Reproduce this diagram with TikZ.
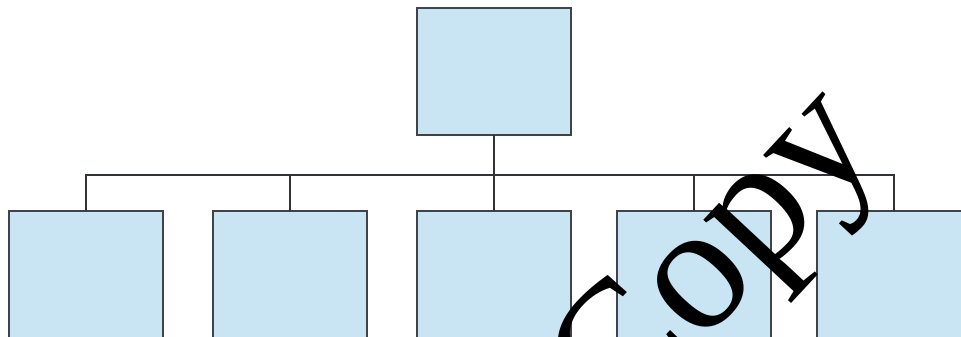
\documentclass[tikz,border=0pt]{standalone}
\usepackage{fontspec}
\setmainfont{Liberation Serif}
\definecolor{boxfill}{HTML}{C9E5F3}
\definecolor{boxline}{HTML}{404448}
\definecolor{connline}{HTML}{303436}
\begin{document}
\begin{tikzpicture}[x=1pt,y=-1pt,
  box/.style={draw=boxline, fill=boxfill, line width=2pt, minimum width=154pt, minimum height=127pt, inner sep=0pt, outer sep=0pt, anchor=north west},
  lowbox/.style={box, minimum height=150pt},
  conn/.style={draw=connline, line width=2pt},
  wmark/.style={rotate=47, anchor=base west, inner sep=0pt, text=black, font=\fontsize{180}{180}\selectfont}]
\useasboundingbox (0,0) rectangle (961,337);
\clip (0,0) rectangle (961,337);
\fill[white] (0,0) rectangle (961,337);
\coordinate (bus) at (0,175);
\node[box] (top) at (417,8) {};
\node[lowbox] (b1) at (9,211) {};
\node[lowbox] (b2) at (213,211) {};
\node[lowbox] (b3) at (417,211) {};
\node[lowbox] (b4) at (617,211) {};
\node[lowbox] (b5) at (817,211) {};
\draw[conn] (top.south) -- (top.south |- bus);
\draw[conn] (b1.north) -- (b1.north |- bus) -- (b5.north |- bus) -- (b5.north);
\draw[conn] (b2.north) -- (b2.north |- bus);
\draw[conn] (b3.north) -- (b3.north |- bus);
\draw[conn] (b4.north) -- (b4.north |- bus);
\node[wmark] (wm) at (618,433) {Copy};
\end{tikzpicture}
\end{document}
